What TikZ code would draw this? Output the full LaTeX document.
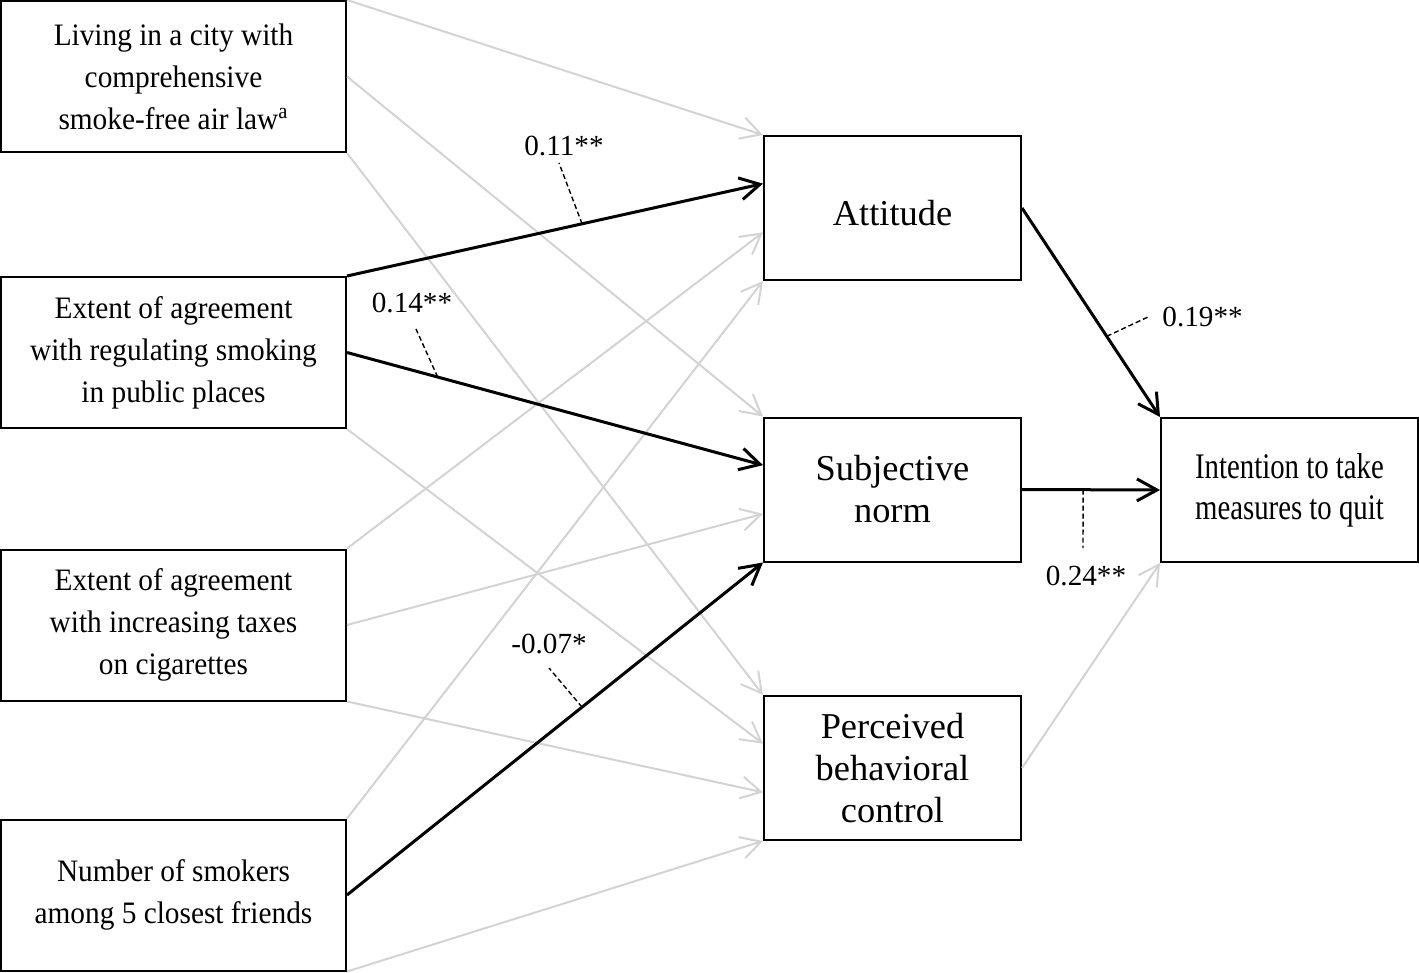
\documentclass[tikz,border=0pt]{standalone}
\usepackage{fontspec}
\setmainfont{Liberation Serif}
\newfontfamily\narrowfont[FakeStretch=0.8]{Liberation Serif}
\newfontfamily\leftfont[FakeStretch=0.94]{Liberation Serif}
\usetikzlibrary{arrows.meta,calc}
\definecolor{lightline}{RGB}{211,211,211}
\begin{document}
\begin{tikzpicture}[x=0.5pt,y=-0.5pt,
  box/.style={draw=black,line width=1pt,fill=white,inner sep=0pt,align=center},
  leftbox/.style={box,minimum width=172.5pt,minimum height=75.5pt,font=\leftfont\fontsize{15.6}{21}\selectfont},
  midbox/.style={box,minimum width=128.5pt,minimum height=72pt,font=\fontsize{18.2}{21}\selectfont},
  rightbox/.style={box,minimum width=128.5pt,minimum height=72pt,font=\narrowfont\fontsize{18}{20.5}\selectfont},
  greyarrow/.style={draw=lightline,line width=1pt,-{Straight Barb[length=10pt,width=11pt]}},
  blackarrow/.style={draw=black,line width=1.5pt,-{Straight Barb[length=10pt,width=11pt]}},
  leader/.style={draw=black,line width=0.7pt,dash pattern=on 2.5pt off 1.5pt},
  coef/.style={inner sep=0pt,font=\fontsize{14.6}{17}\selectfont}]
\useasboundingbox (0,0) rectangle (1419,973);

% left boxes
\node[leftbox] (L1) at (173.5,76.5) {Living in a city with\\comprehensive\\smoke-free air law\textsuperscript{a}};
\node[leftbox] (L2) at (173.5,352.5) {Extent of agreement\\with regulating smoking\\in public places};
\node[leftbox] (L3) at (173.5,625) {Extent of agreement\\with increasing taxes\\on cigarettes};
\node[leftbox] (L4) at (173.5,895) {Number of smokers\\among 5 closest friends};

% middle boxes
\node[midbox,text height=18pt,text depth=0pt] (att) at (892.5,208) {Attitude};
\node[midbox] (SN) at (892.5,489.5) {Subjective\\norm};
\node[midbox] (PBC) at (892.5,768) {Perceived\\behavioral\\control};

% right box
\node[rightbox] (int) at (1289.5,490) {Intention to take\\measures to quit};

% entry points on left sides of middle boxes
\coordinate (att1) at ($(att.north west)!1/3!(att.south west)$);
\coordinate (att2) at ($(att.north west)!2/3!(att.south west)$);
\coordinate (sn1) at ($(SN.north west)!1/3!(SN.south west)$);
\coordinate (sn2) at ($(SN.north west)!2/3!(SN.south west)$);
\coordinate (pbc1) at ($(PBC.north west)!1/3!(PBC.south west)$);
\coordinate (pbc2) at ($(PBC.north west)!2/3!(PBC.south west)$);

% grey (non-significant) paths
\draw[greyarrow] (L1.north east) -- (att.north west);
\draw[greyarrow] (L1.east) -- (SN.north west);
\draw[greyarrow] (L1.south east) -- (PBC.north west);
\draw[greyarrow] (L2.south east) -- (pbc1);
\draw[greyarrow] (L3.north east) -- (att2);
\draw[greyarrow] (L3.east) -- (sn2);
\draw[greyarrow] (L3.south east) -- (pbc2);
\draw[greyarrow] (L4.north east) -- (att.south west);
\draw[greyarrow] (L4.south east) -- (PBC.south west);
\draw[greyarrow] (PBC.east) -- (int.south west);

% black (significant) paths
\draw[blackarrow] (L2.north east) -- (att1);
\draw[blackarrow] (L2.east) -- (sn1);
\draw[blackarrow] (L4.east) -- (SN.south west);
\draw[blackarrow] (att.east) -- (int.north west);
\draw[blackarrow] (SN.east) -- (int.west);

% coefficient labels with dashed leaders
\coordinate (p11) at ($(L2.north east)!0.565!(att1)$);
\coordinate (q11) at (559,163);
\node[coef] (l11) at (564,146) {0.11**};
\draw[leader] (p11) -- (q11);

\coordinate (p14) at ($(L2.east)!0.218!(sn1)$);
\coordinate (q14) at (416,329);
\node[coef] (l14) at (412,303) {0.14**};
\draw[leader] (p14) -- (q14);

\coordinate (p07) at ($(L4.east)!0.565!(SN.south west)$);
\coordinate (q07) at (549,668);
\node[coef] (l07) at (549,644) {-0.07*};
\draw[leader] (p07) -- (q07);

\coordinate (p19) at ($(att.east)!0.614!(int.north west)$);
\coordinate (q19) at (1148,317);
\node[coef,anchor=west] (l19) at (1162,317) {0.19**};
\draw[leader] (p19) -- (q19);

\coordinate (p24) at ($(SN.east)!0.443!(int.west)$);
\coordinate (q24) at (1083,548);
\node[coef] (l24) at (1086,576) {0.24**};
\draw[leader] (p24) -- (q24);
\end{tikzpicture}
\end{document}
